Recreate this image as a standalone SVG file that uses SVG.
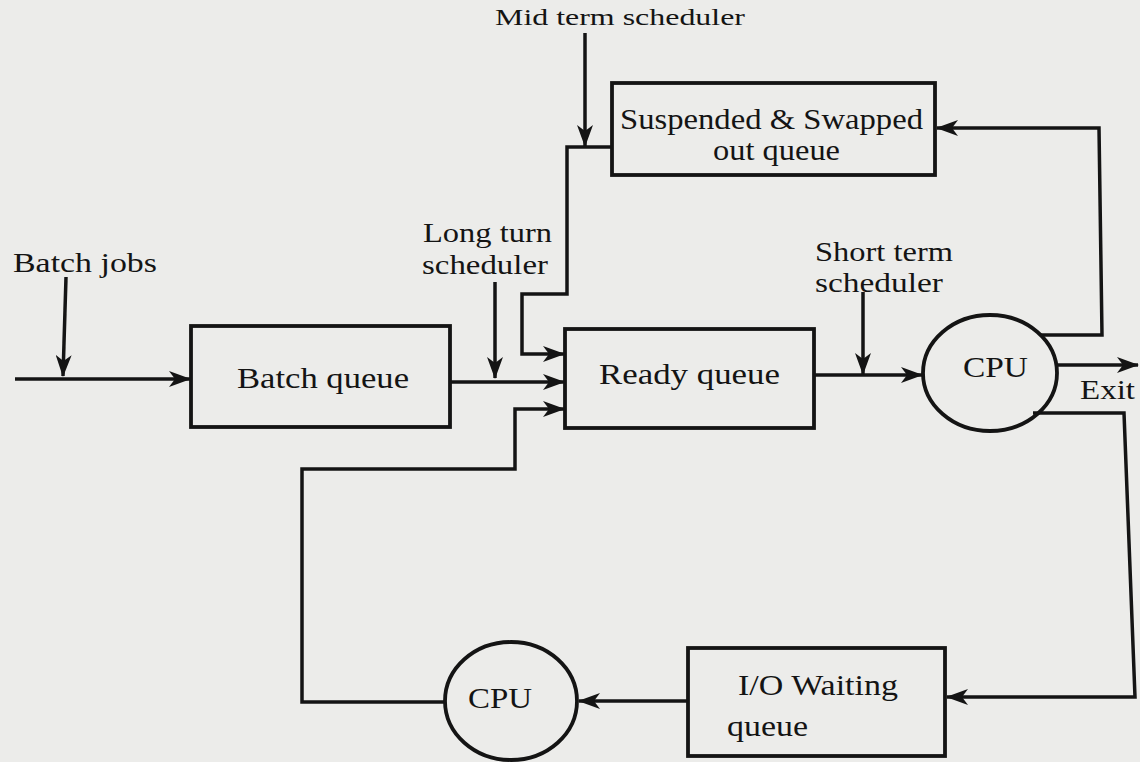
<svg xmlns="http://www.w3.org/2000/svg" width="1140" height="762" viewBox="0 0 1140 762">
<style>
.bg{fill:#ececea}
.box{fill:none;stroke:#141414;stroke-width:3.8}
.ln{fill:none;stroke:#141414;stroke-width:3.5;stroke-linejoin:miter}
.ar{marker-end:url(#ah)}
text{font-family:"Liberation Serif","Times New Roman",serif;fill:#141414;font-size:29px}
.lb{font-size:28px}
.sm{font-size:23px}
</style>
<defs>
<marker id="ah" viewBox="0 0 22 16" refX="21" refY="8" markerWidth="22" markerHeight="16" orient="auto" markerUnits="userSpaceOnUse">
<path d="M0,0 L22,8 L0,16 L6,8 z" fill="#141414"/>
</marker>
</defs>
<rect class="bg" x="0" y="0" width="1140" height="762"/>
<g id="connectors">
<path class="ln ar" d="M66,277 L63,376"/>
<path class="ln ar" d="M15,379 L190,379"/>
<path class="ln ar" d="M450,382 L564,382"/>
<path class="ln ar" d="M495,282 L495,378"/>
<path class="ln ar" d="M612,147 L567,147 L567,294 L522,294 L522,354 L564,354"/>
<path class="ln ar" d="M585,33 L585,146"/>
<path class="ln ar" d="M445,702 L302,702 L302,469 L515,469 L515,409 L564,409"/>
<path class="ln ar" d="M815,375 L922,375"/>
<path class="ln ar" d="M863,292 L863,374"/>
<path class="ln ar" d="M1057,365 L1138,365"/>
<path class="ln ar" d="M1040,335 L1102,335 L1099,128 L937,128"/>
<path class="ln ar" d="M1033,413 L1124,413 L1135,697 L947,697"/>
<path class="ln ar" d="M687,701 L579,701"/>
</g>
<g id="labels">
<text class="sm" x="495" y="25" textLength="250" lengthAdjust="spacingAndGlyphs">Mid term scheduler</text>
<text class="lb" x="13" y="272" textLength="144" lengthAdjust="spacingAndGlyphs">Batch jobs</text>
<text class="lb" x="423" y="242" textLength="129" lengthAdjust="spacingAndGlyphs">Long turn</text>
<text class="lb" x="422" y="274" textLength="126" lengthAdjust="spacingAndGlyphs">scheduler</text>
<text class="lb" x="815" y="261" textLength="138" lengthAdjust="spacingAndGlyphs">Short term</text>
<text class="lb" x="815" y="292" textLength="128" lengthAdjust="spacingAndGlyphs">scheduler</text>
<text class="lb" x="1080" y="399" textLength="55" lengthAdjust="spacingAndGlyphs">Exit</text>
</g>
<g id="batch-queue">
<rect class="box" x="191" y="326" width="259" height="101"/>
<text x="237" y="388" textLength="172" lengthAdjust="spacingAndGlyphs">Batch queue</text>
</g>
<g id="ready-queue">
<rect class="box" x="565" y="329" width="249" height="99"/>
<text x="599" y="384" textLength="181" lengthAdjust="spacingAndGlyphs">Ready queue</text>
</g>
<g id="suspended-queue">
<rect class="box" x="612" y="83" width="323" height="92"/>
<text x="620" y="129" textLength="303" lengthAdjust="spacingAndGlyphs">Suspended &amp; Swapped</text>
<text x="713" y="160" textLength="127" lengthAdjust="spacingAndGlyphs">out queue</text>
</g>
<g id="cpu-main">
<ellipse class="box" cx="990" cy="373" rx="67" ry="58"/>
<text x="963" y="377" textLength="65" lengthAdjust="spacingAndGlyphs">CPU</text>
</g>
<g id="io-waiting-queue">
<rect class="box" x="688" y="648" width="257" height="108"/>
<text x="738" y="695" textLength="160" lengthAdjust="spacingAndGlyphs">I/O Waiting</text>
<text x="727" y="736" textLength="81" lengthAdjust="spacingAndGlyphs">queue</text>
</g>
<g id="cpu-io">
<ellipse class="box" cx="511" cy="701" rx="66" ry="59"/>
<text x="468" y="708" textLength="64" lengthAdjust="spacingAndGlyphs">CPU</text>
</g>
</svg>
